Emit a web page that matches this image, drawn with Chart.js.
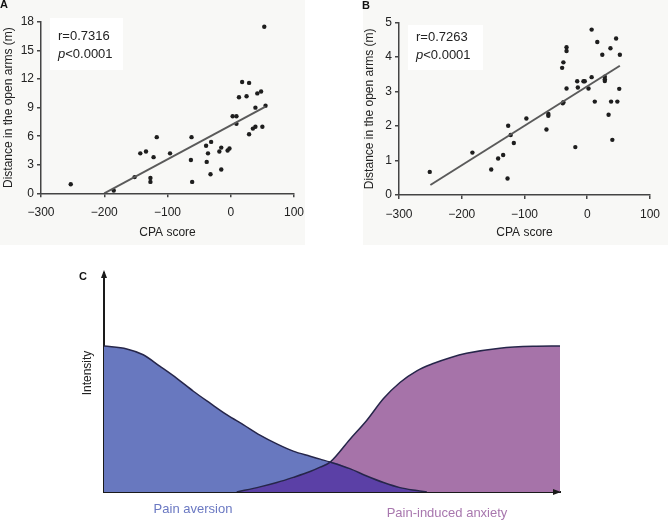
<!DOCTYPE html>
<html>
<head>
<meta charset="utf-8">
<script src="https://cdn.jsdelivr.net/npm/chart.js@4.4.1/dist/chart.umd.min.js"></script>
<style>
  html, body { margin: 0; padding: 0; background: #fff; }
  body { width: 668px; height: 520px; position: relative; overflow: hidden; }
  .panel { position: absolute; }
  canvas { display: block; }
</style>
</head>
<body>
<div class="panel" style="left:0;top:0;width:330px;height:245px"><canvas id="chartA" width="330" height="245"></canvas></div>
<div class="panel" style="left:330px;top:0;width:338px;height:245px"><canvas id="chartB" width="338" height="245"></canvas></div>
<div class="panel" style="left:0;top:235px;width:668px;height:285px"><canvas id="chartC" width="668" height="285"></canvas></div>
<script>
// panel A: CPA score vs distance in open arms
const aScore = [-253, -185, -152, -143, -134, -127, -127, -122, -117, -96, -63, -62, -61, -39, -38, -36, -32, -31, -18, -15,
                -15, -5, -2, 3, 9, 9, 13, 18, 25, 29, 29, 35, 39, 39, 42, 48, 50, 53, 55];
const aDist = [0.95, 0.3, 1.7, 4.2, 4.4, 1.6, 1.2, 3.8, 5.9, 4.2, 3.5, 5.9, 1.2, 5.0, 3.3, 4.2, 2.0, 5.4, 4.4, 4.8,
               2.5, 4.5, 4.7, 8.1, 8.1, 7.3, 10.1, 11.7, 10.2, 11.6, 6.2, 6.8, 7.0, 9.0, 10.5, 10.7, 7.0, 17.5, 9.2];
const aFitX = [-200, 55];
const aFitY = [0, 9.1];

// panel B
const bScore = [-251, -183, -153, -142, -134, -127, -126, -122, -117, -97, -65, -62, -62, -40, -38, -39, -38, -33, -33, -33,
                -19, -16, -15, -6, -4, 2, 7, 7, 12, 16, 24, 28, 28, 28, 34, 37, 38, 40, 46, 48, 51, 52];
const bDist = [0.67, 1.23, 0.74, 1.06, 1.16, 0.48, 2.01, 1.74, 1.51, 2.22, 1.9, 2.35, 2.3, 3.69, 3.85, 2.66, 2.69, 4.29, 4.18, 3.09,
               1.39, 3.30, 3.12, 3.3, 3.3, 3.09, 4.8, 3.42, 2.71, 4.44, 4.07, 3.43, 3.36, 3.31, 2.33, 4.26, 2.71, 1.6, 4.54, 2.71, 3.08, 4.07];
const bFitX = [-250, 52];
const bFitY = [0.29, 3.75];

// panel C: schematic curves (x in % of axis, intensity 0..1)
const aversionX = [0, 5, 8.6, 12.3, 15.9, 19.6, 23.2, 26.9, 30.6, 34.2, 37.9, 41.5, 45.2, 47.4, 49.6, 53.9, 57.6, 61.3, 64.9, 68.6, 70.8];
const aversionY = [1.0, 0.98, 0.94, 0.86, 0.78, 0.69, 0.61, 0.53, 0.46, 0.39, 0.33, 0.28, 0.245, 0.225, 0.205, 0.16, 0.11, 0.065, 0.03, 0.01, 0];
const anxietyX = [29.1, 34.2, 37.9, 41.5, 45.2, 47.4, 49.6, 53.9, 57.6, 61.3, 64.9, 68.6, 72.2, 75.9, 79.5, 86.8, 94.1, 100];
const anxietyY = [0, 0.035, 0.065, 0.1, 0.14, 0.17, 0.205, 0.36, 0.49, 0.64, 0.75, 0.83, 0.88, 0.92, 0.95, 0.985, 0.998, 1.0];
const overlapX = [29.1, 34.2, 37.9, 41.5, 45.2, 47.4, 49.6, 53.9, 57.6, 61.3, 64.9, 68.6, 70.8];
const overlapY = [0, 0.035, 0.065, 0.1, 0.14, 0.17, 0.205, 0.16, 0.11, 0.065, 0.03, 0.01, 0];

const FONT = '"Liberation Sans", Arial, Helvetica, sans-serif';
Chart.defaults.font.family = FONT;
Chart.defaults.color = '#222';
Chart.defaults.animation = false;

function pts(xs, ys) {
    return xs.map((x, i) => ({ x: x, y: ys[i] }));
}

function minusFmt(v) {
    return v < 0 ? '\u2212' + Math.abs(v) : String(v);
}

const deco = {
    id: 'deco',
    beforeDraw(chart, args, o) {
        if (!o.bg) return;
        const c = chart.ctx;
        c.save();
        c.fillStyle = o.bg.color;
        c.fillRect(o.bg.x, o.bg.y, o.bg.w, o.bg.h);
        c.restore();
    },
    afterDraw(chart, args, o) {
        const c = chart.ctx;
        c.save();
        if (o.letter) {
            c.font = 'bold 11px ' + FONT;
            c.fillStyle = '#111';
            c.textBaseline = 'middle';
            c.fillText(o.letter.t, o.letter.x, o.letter.y);
        }
        if (o.stats) {
            const s = o.stats;
            c.fillStyle = '#fff';
            c.fillRect(s.x, s.y, s.w, s.h);
            c.fillStyle = '#222';
            c.textBaseline = 'middle';
            c.font = '13px ' + FONT;
            c.fillText(s.r, s.tx, s.y1);
            c.font = 'italic 13px ' + FONT;
            c.fillText('p', s.tx, s.y2);
            const pw = c.measureText('p').width;
            c.font = '13px ' + FONT;
            c.fillText('<0.0001', s.tx + pw, s.y2);
        }
        if (o.schema) {
            const a = chart.chartArea;
            c.fillStyle = '#1a1a1a';
            c.beginPath();
            c.moveTo(a.left, a.top - 3);
            c.lineTo(a.left - 3, a.top + 5);
            c.lineTo(a.left + 3, a.top + 5);
            c.closePath();
            c.fill();
            c.beginPath();
            c.moveTo(a.right + 1, a.bottom);
            c.lineTo(a.right - 7, a.bottom - 3);
            c.lineTo(a.right - 7, a.bottom + 3);
            c.closePath();
            c.fill();

            c.font = '12px ' + FONT;
            c.fillStyle = '#222';
            c.textAlign = 'center';
            c.textBaseline = 'middle';
            c.save();
            c.translate(88, 138);
            c.rotate(-Math.PI / 2);
            c.fillText('Intensity', 0, 0);
            c.restore();

            c.font = '13px ' + FONT;
            c.fillStyle = '#6a78c2';
            c.fillText('Pain aversion', 193, 274);
            c.fillStyle = '#a877ae';
            c.fillText('Pain-induced anxiety', 447, 278);

            c.font = 'bold 11px ' + FONT;
            c.fillStyle = '#111';
            c.textAlign = 'left';
            c.fillText('C', 79, 42);
        }
        c.restore();
    }
};
Chart.register(deco);

function scatterPanel(id, xs, ys, fitX, fitY, cfg) {
    return new Chart(document.getElementById(id), {
        type: 'scatter',
        data: {
            datasets: [
                {
                    data: pts(fitX, fitY),
                    showLine: true,
                    borderColor: '#5a5a5a',
                    borderWidth: 2,
                    pointRadius: 0,
                    fill: false
                },
                {
                    data: pts(xs, ys),
                    backgroundColor: '#1e1e1e',
                    borderWidth: 0,
                    pointRadius: 2.2
                }
            ]
        },
        options: {
            responsive: false,
            layout: { padding: cfg.padding },
            plugins: {
                legend: { display: false },
                tooltip: { enabled: false },
                deco: cfg.deco
            },
            scales: {
                x: {
                    type: 'linear',
                    min: -300,
                    max: 100,
                    ticks: { stepSize: 100, padding: 8, font: { size: 12 }, color: '#222', callback: minusFmt },
                    grid: { drawOnChartArea: false, tickLength: 4, color: '#444', lineWidth: 1.5 },
                    border: { color: '#444', width: 1.5 },
                    title: { display: true, text: 'CPA score', font: { size: 12 }, color: '#222', padding: { top: 0, bottom: 4.8 } },
                    afterFit(s) { s.height = cfg.xh; }
                },
                y: {
                    min: 0,
                    max: cfg.ymax,
                    ticks: { stepSize: cfg.ystep, padding: 3, font: { size: 12 }, color: '#222' },
                    grid: { drawOnChartArea: false, tickLength: 4, color: '#444', lineWidth: 1.5 },
                    border: { color: '#444', width: 1.5 },
                    title: { display: true, text: 'Distance in the open arms (m)', font: { size: 12 }, color: '#222', padding: { top: cfg.ytp, bottom: 0 } },
                    afterFit(s) { s.width = cfg.yw; }
                }
            }
        }
    });
}

scatterPanel('chartA', aScore, aDist, aFitX, aFitY, {
    padding: { left: 0, right: 36, top: 22, bottom: 0 },
    xh: 51.7, yw: 41, ytp: 1, ymax: 18, ystep: 3,
    deco: {
        bg: { color: '#f8f8f6', x: 0, y: 0, w: 305, h: 245 },
        letter: { t: 'A', x: 0, y: 5 },
        stats: { x: 50, y: 18, w: 73, h: 52, tx: 58, y1: 36, y2: 54, r: 'r=0.7316' }
    }
});

scatterPanel('chartB', bScore, bDist, bFitX, bFitY, {
    padding: { left: 30, right: 12, top: 22.7, bottom: 0 },
    xh: 50, yw: 39, ytp: 2.8, ymax: 5, ystep: 1,
    deco: {
        bg: { color: '#f8f8f6', x: 33, y: 0, w: 305, h: 245 },
        letter: { t: 'B', x: 32, y: 6 },
        stats: { x: 78, y: 25, w: 75, h: 45, tx: 86, y1: 37, y2: 55, r: 'r=0.7263' }
    }
});

new Chart(document.getElementById('chartC'), {
    type: 'line',
    data: {
        datasets: [
            {
                label: 'overlap',
                data: pts(overlapX, overlapY),
                fill: 'origin',
                backgroundColor: '#5b40a6',
                borderWidth: 0,
                pointRadius: 0,
                cubicInterpolationMode: 'monotone'
            },
            {
                label: 'Pain-induced anxiety',
                data: pts(anxietyX, anxietyY),
                fill: 'origin',
                backgroundColor: '#a673a9',
                borderColor: '#26264a',
                borderWidth: 1.5,
                pointRadius: 0,
                cubicInterpolationMode: 'monotone'
            },
            {
                label: 'Pain aversion',
                data: pts(aversionX, aversionY),
                fill: 'origin',
                backgroundColor: '#6878bf',
                borderColor: '#26264a',
                borderWidth: 1.5,
                pointRadius: 0,
                cubicInterpolationMode: 'monotone'
            }
        ]
    },
    options: {
        responsive: false,
        layout: { padding: { left: 79, right: 108, top: 38, bottom: 0 } },
        plugins: {
            legend: { display: false },
            tooltip: { enabled: false },
            filler: { drawTime: 'beforeDatasetsDraw' },
            deco: { schema: true }
        },
        scales: {
            x: {
                type: 'linear',
                min: 0,
                max: 100,
                ticks: { display: false },
                grid: { display: false },
                border: { display: true, color: '#1a1a1a', width: 2 },
                afterFit(s) { s.height = 28; }
            },
            y: {
                min: 0,
                max: 1.5,
                ticks: { display: false },
                grid: { display: false },
                border: { display: true, color: '#1a1a1a', width: 2 },
                afterFit(s) { s.width = 25; }
            }
        }
    }
});
</script>
</body>
</html>
